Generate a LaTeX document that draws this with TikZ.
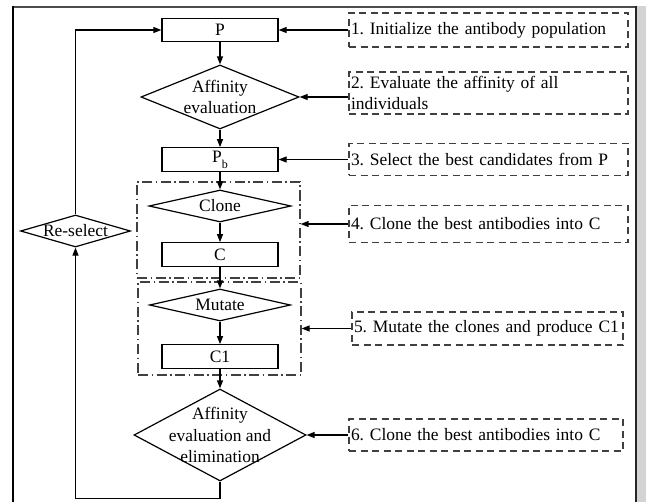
\documentclass[tikz,border=0pt]{standalone}
\usepackage{fontspec}
\setmainfont{Liberation Serif}
\usetikzlibrary{shapes.geometric,arrows.meta}
\begin{document}
\frenchspacing
\begin{tikzpicture}[x=1bp,y=-1bp,
  every node/.style={font=\fontsize{17.5}{21.5}\selectfont},
  flowbox/.style={draw,line width=1.2bp,rectangle,minimum width=116bp,minimum height=23.5bp,inner sep=0pt},
  dia/.style={draw,line width=1.2bp,diamond,inner sep=0pt},
  lbl/.style={align=center,inner sep=0pt},
  note/.style={draw=black!75,line width=1.2bp,dash pattern=on 7bp off 4.5bp,rectangle,inner xsep=2bp,inner ysep=3bp,align=left},
  grp/.style={draw=black!75,line width=1.2bp,dash pattern=on 10bp off 3.5bp on 1.5bp off 3.5bp,rectangle,inner sep=0pt},
  arr/.style={line width=1.2bp,-{Triangle[length=8bp,width=6bp]}},
  ln/.style={line width=1.2bp}]
\useasboundingbox (0,0) rectangle (646,502);
% frame
\fill[black!17] (637,6) rectangle (646,502);
\draw[black!70,line width=1.5bp] (13,7) -- (636,7);
\draw[line width=1.5bp] (13,6.5) -- (13,502);
\draw[black!85,line width=2.2bp] (636,6) -- (636,502);
% groups
\node[grp,minimum width=163bp,minimum height=96bp] (g1) at (218.5,230) {};
\node[grp,minimum width=163bp,minimum height=93bp] (g2) at (219.5,328.5) {};
% flow nodes
\node[flowbox] (P) at (220,30) {P};
\node[dia,minimum width=158bp,minimum height=64bp] (ae) at (220,97) {};
\node[lbl] at (ae.center) {Affinity\\evaluation};
\node[flowbox] (Pb) at (220,159.5) {P\raisebox{-6bp}{\fontsize{12}{12}\selectfont b}};
\node[dia,minimum width=142bp,minimum height=32bp] (cl) at (220,206) {};
\node[lbl] at (cl.center) {Clone};
\node[flowbox] (C) at (220,254.5) {C};
\node[dia,minimum width=141bp,minimum height=32bp] (mu) at (220,305) {};
\node[lbl] at (mu.center) {Mutate};
\node[flowbox] (C1) at (220,356.5) {C1};
\node[dia,minimum width=172bp,minimum height=92bp] (fe) at (220,435) {};
\node[lbl] at (fe.center) {Affinity\\evaluation and\\elimination};
\node[dia,minimum width=110bp,minimum height=32bp] (rs) at (75.5,231) {};
\node[lbl] at (rs.center) {Re-select};
% notes
\node[note,minimum width=279bp,minimum height=34bp,text width=275bp] (n1) at (488.5,30) {1. Initialize the antibody population};
\node[note,minimum width=279bp,minimum height=42bp,text width=275bp] (n2) at (488.5,93) {2. Evaluate the affinity of all\\individuals};
\node[note,minimum width=279bp,minimum height=32bp,text width=275bp] (n3) at (488.5,159.5) {3. Select the best candidates from P};
\node[note,minimum width=279bp,minimum height=37bp,text width=275bp] (n4) at (488.5,224) {4. Clone the best antibodies into C};
\node[note,minimum width=271bp,minimum height=33bp,text width=267bp] (n5) at (487.5,328.5) {5. Mutate the clones and produce C1};
\node[note,minimum width=274bp,minimum height=32bp,text width=270bp] (n6) at (486,435) {6. Clone the best antibodies into C};
% vertical flow
\draw[arr] (P.south) -- (ae.north);
\draw[arr] (ae.south) -- (Pb.north);
\draw[arr] (Pb.south) -- (cl.north);
\draw[arr] (cl.south) -- (C.north);
\draw[arr] (C.south) -- (mu.north);
\draw[arr] (mu.south) -- (C1.north);
\draw[arr] (C1.south) -- (fe.north);
% note arrows
\draw[arr] (n1.west) -- (P.east);
\draw[arr] (n2.west |- ae.east) -- (ae.east);
\draw[arr] (n3.west) -- (Pb.east);
\draw[arr] (n4.west) -- (g1.east |- n4.west);
\draw[arr] (n5.west) -- (g2.east |- n5.west);
\draw[arr] (n6.west) -- (fe.east);
% loop
\draw[arr] (fe.south) |- ++(0,17) -| (rs.south);
\draw[arr] (rs.north) |- (P.west);
\end{tikzpicture}
\end{document}
